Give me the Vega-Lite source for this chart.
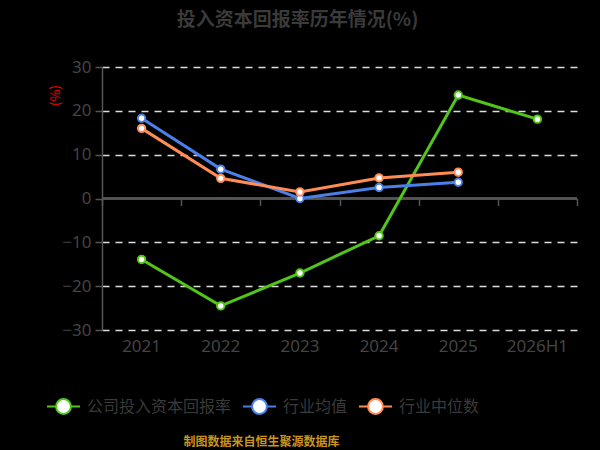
{
  "$schema": "https://vega.github.io/schema/vega-lite/v6.json",
  "width": 475,
  "height": 263,
  "autosize": {"type": "none"},
  "padding": {"left": 102, "top": 67, "right": 23, "bottom": 120},
  "background": "#000000",
  "title": {
    "text": "投入资本回报率历年情况(%)",
    "color": "#3a3a3a",
    "fontSize": 19,
    "fontWeight": "bold",
    "font": "Noto Sans CJK SC",
    "anchor": "middle",
    "dx": -42,
    "offset": 28
  },
  "data": {
    "values": [
      {"year": "2021", "series": "公司投入资本回报率", "value": -13.9},
      {"year": "2022", "series": "公司投入资本回报率", "value": -24.5},
      {"year": "2023", "series": "公司投入资本回报率", "value": -17.0},
      {"year": "2024", "series": "公司投入资本回报率", "value": -8.5},
      {"year": "2025", "series": "公司投入资本回报率", "value": 23.6},
      {"year": "2026H1", "series": "公司投入资本回报率", "value": 18.1},
      {"year": "2021", "series": "行业均值", "value": 18.3},
      {"year": "2022", "series": "行业均值", "value": 6.7},
      {"year": "2023", "series": "行业均值", "value": 0.0},
      {"year": "2024", "series": "行业均值", "value": 2.5},
      {"year": "2025", "series": "行业均值", "value": 3.7},
      {"year": "2021", "series": "行业中位数", "value": 16.0},
      {"year": "2022", "series": "行业中位数", "value": 4.6},
      {"year": "2023", "series": "行业中位数", "value": 1.5},
      {"year": "2024", "series": "行业中位数", "value": 4.7},
      {"year": "2025", "series": "行业中位数", "value": 6.0}
    ]
  },
  "encoding": {
    "x": {
      "field": "year",
      "type": "ordinal",
      "sort": ["2021", "2022", "2023", "2024", "2025", "2026H1"],
      "scale": {"type": "band", "paddingInner": 0, "paddingOuter": 0},
      "axis": {
        "orient": "bottom",
        "title": "制图数据来自恒生聚源数据库",
        "titleColor": "#c8961e",
        "titleFontSize": 12,
        "titleFontWeight": "bold",
        "titleFont": "Noto Sans CJK SC",
        "titleX": 159,
        "titleY": 111,
        "titleAlign": "center",
        "titleBaseline": "middle",
        "domain": false,
        "ticks": false,
        "labelAngle": 0,
        "labelColor": "#444444",
        "labelFontSize": 17,
        "labelFont": "Noto Sans",
        "labelPadding": 8
      }
    },
    "y": {
      "field": "value",
      "type": "quantitative",
      "scale": {"domain": [-30, 30], "nice": false},
      "axis": {
        "values": [-30, -20, -10, 0, 10, 20, 30],
        "title": "(%)",
        "titleColor": "#ff0000",
        "titleFontSize": 13,
        "titleFontWeight": "normal",
        "titleX": -47,
        "titleY": 28,
        "titleAngle": -90,
        "titleAlign": "center",
        "titleBaseline": "middle",
        "labelColor": "#444444",
        "labelFontSize": 17,
        "labelFont": "Noto Sans",
        "labelPadding": 4,
        "domainColor": "#555555",
        "domainWidth": 1.5,
        "tickColor": "#555555",
        "tickSize": 7,
        "tickWidth": 1.5,
        "grid": true,
        "gridColor": "#dddddd",
        "gridDash": [7, 6],
        "gridWidth": 1.5,
        "gridOpacity": {"condition": {"test": "datum.value === 0", "value": 0}, "value": 1}
      }
    }
  },
  "layer": [
    {
      "mark": {"type": "rule", "color": "#555555", "strokeWidth": 1.5},
      "encoding": {
        "y": {"datum": 0},
        "x": null
      }
    },
    {
      "mark": {"type": "line", "strokeWidth": 3},
      "encoding": {
        "x": {
          "field": "year",
          "type": "ordinal",
          "sort": ["2021", "2022", "2023", "2024", "2025", "2026H1"],
          "axis": {
            "orient": "top",
            "offset": -131.5,
            "title": null,
            "labels": false,
            "domain": false,
            "ticks": true,
            "tickBand": "extent",
            "tickSize": -7,
            "tickColor": "#555555",
            "tickWidth": 1.5
          }
        },
        "color": {
          "field": "series",
          "type": "nominal",
          "scale": {
            "domain": ["公司投入资本回报率", "行业均值", "行业中位数"],
            "range": ["#52c41a", "#4a80e8", "#ff8c55"]
          },
          "legend": {
            "orient": "none",
            "legendX": -56,
            "legendY": 322,
            "direction": "horizontal",
            "title": null,
            "symbolType": "M-1,0L-0.45,0M0.45,0L1,0M0.45,0A0.45,0.45,0,1,1,-0.45,0A0.45,0.45,0,1,1,0.45,0Z",
            "symbolSize": 1089,
            "symbolStrokeWidth": 2,
            "symbolFillColor": "#ffffff",
            "labelFontSize": 16,
            "labelColor": "#3a3a3a",
            "labelFont": "Noto Sans CJK SC",
            "labelOffset": 6,
            "columnPadding": 7,
            "encode": {
              "symbols": {"update": {"fill": {"value": "#ffffff"}, "fillOpacity": {"value": 1}}}
            }
          }
        }
      }
    },
    {
      "mark": {"type": "point", "filled": false, "fill": "#ffffff", "fillOpacity": 1, "size": 55, "strokeWidth": 2, "opacity": 1},
      "encoding": {
        "stroke": {"field": "series", "type": "nominal", "legend": null,
          "scale": {"domain": ["公司投入资本回报率", "行业均值", "行业中位数"], "range": ["#52c41a", "#4a80e8", "#ff8c55"]}}
      }
    }
  ],
  "resolve": {"axis": {"x": "independent"}},
  "config": {
    "view": {"stroke": null},
    "font": "Noto Sans CJK SC"
  }
}
